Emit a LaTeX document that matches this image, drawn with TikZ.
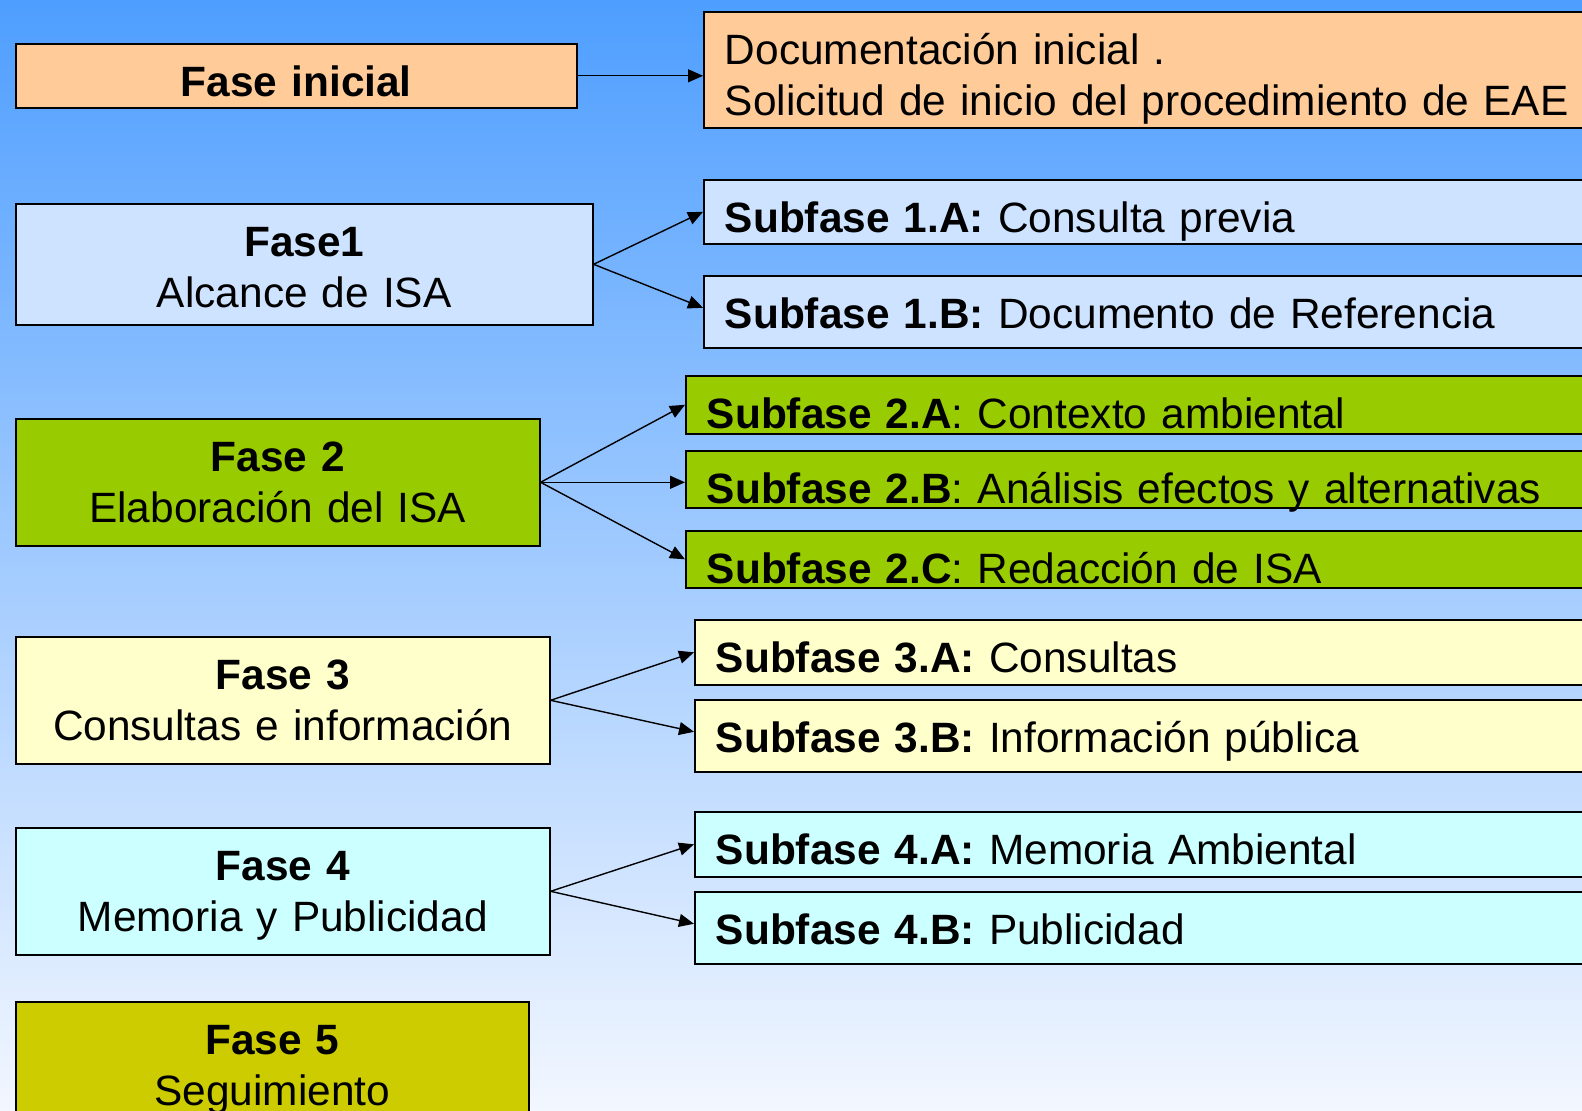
\documentclass[tikz,border=0pt]{standalone}
\usepackage{fontspec}
\setmainfont[WordSpace=0.85]{Liberation Sans}
\usetikzlibrary{arrows.meta}

\definecolor{fondoarriba}{RGB}{78,158,255}
\definecolor{fondomedio}{RGB}{182,208,255}
\definecolor{fondoabajo}{RGB}{243,247,255}
\definecolor{melocoton}{RGB}{255,204,153}
\definecolor{azulclaro}{RGB}{206,227,255}
\definecolor{verde}{RGB}{153,204,0}
\definecolor{crema}{RGB}{255,255,204}
\definecolor{celeste}{RGB}{204,255,255}
\definecolor{oliva}{RGB}{204,204,0}

\tikzset{
  caja/.style={draw, line width=0.8pt, anchor=north west, inner xsep=10.5pt,
    inner ysep=0pt, text height=26.25pt},
  fase/.style 2 args={caja, align=center, text width=#1, text depth=#2},
  subfase/.style={caja, align=left, text width=600pt, text depth=#1},
  flecha/.style={-{Triangle[length=7.5pt,width=6.5pt]}, line width=0.7pt}
}

\begin{document}
\begin{tikzpicture}[x=0.5pt,y=-0.5pt]
  \useasboundingbox (0,0) rectangle (1582,1111);
  \clip (0,0) rectangle (1582,1111);
  \shade[top color=fondoarriba, middle color=fondomedio, bottom color=fondoabajo]
    (0,0) rectangle (1582,1111);

  \begin{scope}[every node/.style={font=\fontsize{21.2}{25.5}\selectfont}]
    % fases
    \node[fase={259.5pt}{5.75pt}, fill=melocoton] (ini) at (15,43) {\textbf{Fase inicial}};
    \node[fase={267.5pt}{34.25pt}, fill=azulclaro] (f1) at (15,203) {\textbf{Fase1}\\Alcance de ISA};
    \node[fase={241pt}{37.25pt}, fill=verde] (f2) at (15,418) {\textbf{Fase 2}\\Elaboración del ISA};
    \node[fase={246pt}{37.25pt}, fill=crema] (f3) at (15,636) {\textbf{Fase 3}\\Consultas e información};
    \node[fase={246pt}{37.25pt}, fill=celeste] (f4) at (15,827) {\textbf{Fase 4}\\Memoria y Publicidad};
    \node[fase={235.5pt}{37.25pt}, fill=oliva] (f5) at (15,1001) {\textbf{Fase 5}\\Seguimiento};

    % subfases
    \node[subfase=31.75pt, fill=melocoton] (doc) at (703,11) {Documentación inicial .\\Solicitud de inicio del procedimiento de EAE};
    \node[subfase=5.75pt, fill=azulclaro] (s1a) at (703,179) {\textbf{Subfase 1.A:} Consulta previa};
    \node[subfase=9.75pt, fill=azulclaro] (s1b) at (703,275) {\textbf{Subfase 1.B:} Documento de Referencia};
    \node[subfase=2.75pt, fill=verde] (s2a) at (685,375) {\textbf{Subfase 2.A}: Contexto ambiental};
    \node[subfase=2.25pt, fill=verde] (s2b) at (685,450) {\textbf{Subfase 2.B}: Análisis efectos y alternativas};
    \node[subfase=2.25pt, fill=verde] (s2c) at (685,530) {\textbf{Subfase 2.C}: Redacción de ISA};
    \node[subfase=6.25pt, fill=crema] (s3a) at (694,619) {\textbf{Subfase 3.A:} Consultas};
    \node[subfase=9.75pt, fill=crema] (s3b) at (694,699) {\textbf{Subfase 3.B:} Información pública};
    \node[subfase=6.25pt, fill=celeste] (s4a) at (694,811) {\textbf{Subfase 4.A:} Memoria Ambiental};
    \node[subfase=9.75pt, fill=celeste] (s4b) at (694,891) {\textbf{Subfase 4.B:} Publicidad};
  \end{scope}

  % flechas
  \draw[flecha] (ini.east) -- (ini.east -| doc.west);
  \draw[flecha] (f1.east) -- (s1a.west);
  \draw[flecha] (f1.east) -- ([yshift=2pt]s1b.west);
  \draw[flecha] (f2.east) -- (s2a.west);
  \draw[flecha] (f2.east) -- (f2.east -| s2b.west);
  \draw[flecha] (f2.east) -- (s2c.west);
  \draw[flecha] (f3.east) -- (s3a.west);
  \draw[flecha] (f3.east) -- ([yshift=2pt]s3b.west);
  \draw[flecha] (f4.east) -- (s4a.west);
  \draw[flecha] (f4.east) -- ([yshift=2pt]s4b.west);

\end{tikzpicture}
\end{document}
